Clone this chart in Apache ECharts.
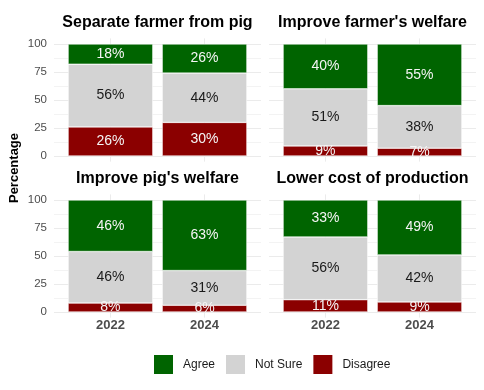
<!DOCTYPE html>
<html>
<head>
<meta charset="utf-8">
<script src="https://cdn.jsdelivr.net/npm/echarts@6/dist/echarts.min.js"></script>
<style>html,body{margin:0;padding:0;background:#fff}#c{width:484px;height:390px}</style>
</head>
<body>
<div id="c"></div>
<script>
const years = ['2022', '2024'];
const panels = ['Separate farmer from pig', "Improve farmer's welfare", "Improve pig's welfare", 'Lower cost of production'];
const agree = [[18, 26], [40, 55], [46, 63], [33, 49]];
const notSure = [[56, 44], [51, 38], [46, 31], [56, 42]];
const disagree = [[26, 30], [9, 7], [8, 6], [11, 9]];
const yTicks = [0, 25, 50, 75, 100];
const yMinorTicks = [12.5, 37.5, 62.5, 87.5];
const seriesNames = ['Disagree', 'Not Sure', 'Agree'];

const FONT = '"Liberation Sans", Arial, sans-serif';
const colors = { 'Agree': '#006400', 'Not Sure': '#D3D3D3', 'Disagree': '#8B0000' };
const labelColors = { 'Agree': '#F5F5F5', 'Not Sure': '#1A1A1A', 'Disagree': '#F5F5F5' };
const valuesByName = { 'Agree': agree, 'Not Sure': notSure, 'Disagree': disagree };

// layout
const colLeft = [54, 269];
const rowTop = [44, 200];
const panelW = 207, panelH = 112, expandY = 5.6;
const unit = panelW / 2.2;
const grid = [], xAxis = [], yAxis = [], series = [], title = [];

panels.forEach((p, i) => {
  const col = i % 2, row = Math.floor(i / 2);
  grid.push({ left: colLeft[col], top: rowTop[row] - expandY, width: panelW, height: panelH + 2 * expandY, containLabel: false });
});
panels.forEach((p, i) => {
  const col = i % 2, row = Math.floor(i / 2);
  grid.push({ left: colLeft[col] + 0.1 * unit, top: rowTop[row], width: 2 * unit, height: panelH, containLabel: false });
});

panels.forEach((p, i) => {
  const col = i % 2;
  xAxis.push({
    gridIndex: i, type: 'value', min: 0, max: 2.2,
    axisLine: { show: false }, axisTick: { show: false, customValues: [0.6, 1.6] },
    axisLabel: { show: false, customValues: [0.6, 1.6] },
    splitLine: { show: true, lineStyle: { color: '#EBEBEB', width: 1 } }
  });
  yAxis.push({
    gridIndex: i, type: 'value', min: -5, max: 105,
    axisLine: { show: false }, axisTick: { show: false, customValues: yTicks },
    axisLabel: { show: col === 0, customValues: yTicks, color: '#4D4D4D', fontSize: 11.5, fontFamily: FONT, margin: 7 },
    splitLine: { show: true, lineStyle: { color: '#EBEBEB', width: 1 } }
  });
});
panels.forEach((p, i) => {
  yAxis.push({
    gridIndex: i, type: 'value', min: -5, max: 105, position: 'right',
    axisLine: { show: false }, axisTick: { show: false, customValues: yMinorTicks },
    axisLabel: { show: false, customValues: yMinorTicks },
    splitLine: { show: true, lineStyle: { color: '#EBEBEB', width: 0.6 } }
  });
});
panels.forEach((p, i) => {
  const row = Math.floor(i / 2);
  xAxis.push({
    gridIndex: 4 + i, type: 'category', data: years,
    axisLine: { show: false }, axisTick: { show: false }, splitLine: { show: false },
    axisLabel: { show: row === 1, color: '#4D4D4D', fontSize: 13, fontWeight: 'bold', fontFamily: FONT, margin: 7 }
  });
  yAxis.push({ gridIndex: 4 + i, type: 'value', min: 0, max: 100, show: false, splitLine: { show: false } });
  seriesNames.forEach(name => {
    series.push({
      name, type: 'bar', stack: 'p' + i, xAxisIndex: 4 + i, yAxisIndex: 8 + i,
      barWidth: 0.9 * unit,
      data: valuesByName[name][i],
      itemStyle: { color: colors[name], borderColor: '#FFFFFF', borderWidth: 0.5 },
      label: { show: true, position: 'inside', formatter: '{c}%', color: labelColors[name], fontSize: 14, fontFamily: FONT },
      emphasis: { disabled: true }
    });
  });
  const col = i % 2;
  title.push({
    text: p, left: colLeft[col] + panelW / 2, top: rowTop[row] - 29, textAlign: 'center', padding: 0,
    textStyle: { fontSize: 16, fontWeight: 'bold', color: '#000', fontFamily: FONT }
  });
});

const chart = echarts.init(document.getElementById('c'), null, { renderer: 'canvas' });
chart.setOption({
  animation: false,
  backgroundColor: '#FFFFFF',
  title,
  grid, xAxis, yAxis, series,
  legend: {
    data: ['Agree', 'Not Sure', 'Disagree'], left: 152, top: 353, padding: 0,
    icon: 'rect', itemWidth: 21, itemHeight: 21, itemGap: 9,
    textStyle: { fontSize: 12, color: '#1A1A1A', fontFamily: FONT, padding: [0, 0, 0, 4] },
    selectedMode: false
  },
  graphic: [{
    type: 'text', x: 14, y: 168, rotation: Math.PI / 2,
    style: { text: 'Percentage', font: 'bold 13px ' + FONT, fill: '#000', align: 'center', verticalAlign: 'middle' }
  }]
});
</script>
</body>
</html>
